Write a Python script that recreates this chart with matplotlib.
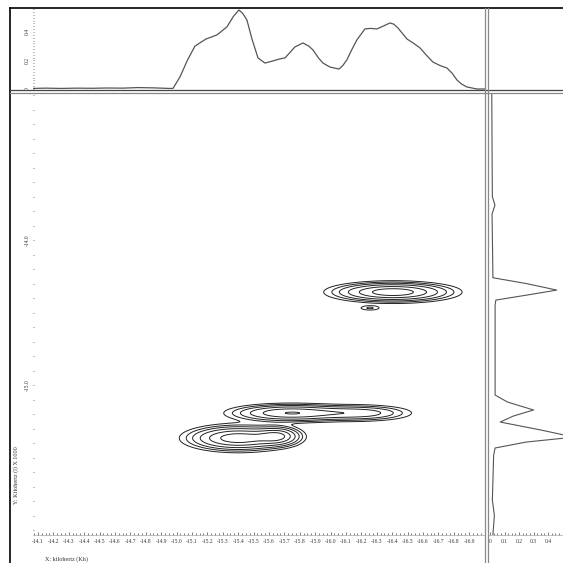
import numpy as np
import matplotlib.pyplot as plt
from matplotlib.lines import Line2D
from matplotlib.ticker import MultipleLocator, FixedLocator

# top projection (x in kHz, intensity)
top_x = [-14.068, -14.15, -14.25, -14.35, -14.45, -14.55, -14.65, -14.75, -14.85, -14.95, -14.977,
         -15.022, -15.07, -15.119, -15.19, -15.262, -15.327, -15.37, -15.405, -15.43, -15.457,
         -15.49, -15.529, -15.574, -15.62, -15.671, -15.704, -15.74, -15.769, -15.821, -15.86,
         -15.886, -15.92, -15.951, -15.996, -16.055, -16.08, -16.106, -16.14, -16.171, -16.223,
         -16.26, -16.301, -16.35, -16.386, -16.41, -16.438, -16.496, -16.54, -16.581, -16.62,
         -16.665, -16.71, -16.756, -16.79, -16.821, -16.85, -16.886, -16.951, -17.0]
top_v = [0.004, 0.006, 0.004, 0.006, 0.005, 0.007, 0.006, 0.010, 0.008, 0.004, 0.004,
         0.084, 0.20, 0.300, 0.350, 0.379, 0.435, 0.510, 0.554, 0.530, 0.484,
         0.350, 0.218, 0.182, 0.195, 0.211, 0.218, 0.260, 0.295, 0.323, 0.300,
         0.274, 0.220, 0.182, 0.154, 0.140, 0.165, 0.204, 0.280, 0.344, 0.421,
         0.425, 0.421, 0.445, 0.463, 0.455, 0.428, 0.351, 0.320, 0.288, 0.240,
         0.189, 0.165, 0.147, 0.110, 0.063, 0.035, 0.014, 0.0, 0.0]

# right projection (intensity, y in kHz)
side_y = [-12.99, -13.38, -13.70, -13.76, -13.82, -14.26, -14.30, -14.345, -14.372, -14.414,
          -14.448, -14.76, -15.069, -15.117, -15.172, -15.214, -15.255, -15.31, -15.359,
          -15.393, -15.434, -15.483, -15.793, -15.90, -16.03]
side_v = [0.012, 0.014, 0.016, 0.034, 0.014, 0.02, 0.25, 0.46, 0.30, 0.04,
          0.035, 0.035, 0.035, 0.12, 0.30, 0.16, 0.07, 0.35, 0.58,
          0.25, 0.035, 0.025, 0.016, 0.03, 0.02]

# 2D peaks: centre x, centre y, width x, width y, height
pk_x = [-16.405, -16.256, -15.40, -15.658, -15.736, -16.191]
pk_y = [-14.359, -14.469, -15.366, -15.352, -15.193, -15.193]
pk_sx = [0.20, 0.05, 0.17, 0.08, 0.20, 0.18]
pk_sy = [0.035, 0.012, 0.045, 0.035, 0.032, 0.030]
pk_h = [1.0, 0.15, 1.0, 0.7, 0.8, 0.45]
levels = [0.08, 0.14, 0.22, 0.35, 0.55, 0.8]

x_ticks = [round(-14.1 - 0.1 * i, 1) for i in range(29)]
y_ticks = [-14.0, -15.0]
side_ticks = [0, 0.1, 0.2, 0.3, 0.4, 0.5]
side_labels = ['0', '0.1', '0.2', '0.3', '0.4', '']

W = 563.0
def box(l, t, r, b):
    return [l / W, 1 - b / W, (r - l) / W, (b - t) / W]

plt.rcParams['font.family'] = ['Liberation Serif', 'DejaVu Serif']
fig = plt.figure(figsize=(5.63, 5.63), dpi=100)
fig.patch.set_facecolor('white')

tc = '#333333'
fs = 4.0

# main contour panel
ax = fig.add_axes(box(33, 93, 485, 535))
gx = np.linspace(-14.0, -17.1, 500)
gy = np.linspace(-12.9, -16.1, 500)
X, Y = np.meshgrid(gx, gy)
Z = np.zeros_like(X)
for cx, cy, sx, sy, h in zip(pk_x, pk_y, pk_sx, pk_sy, pk_h):
    Z += h * np.exp(-0.5 * (((X - cx) / sx) ** 2 + ((Y - cy) / sy) ** 2))
ax.contour(X, Y, Z, levels=levels, colors='#222222', linewidths=0.7)
ax.set_xlim(-14.068, -17.003)
ax.set_ylim(-16.034, -12.986)
for s in ['top', 'right', 'left']:
    ax.spines[s].set_visible(False)
ax.spines['bottom'].set_color('#aaaaaa')
ax.spines['bottom'].set_linewidth(0.5)
ax.xaxis.set_major_locator(FixedLocator(x_ticks))
ax.set_xticklabels(['%.1f' % v for v in x_ticks])
ax.xaxis.set_minor_locator(MultipleLocator(0.025))
ax.yaxis.set_major_locator(FixedLocator(y_ticks))
ax.set_yticklabels(['%.1f' % v for v in y_ticks], rotation=90, va='center')
ax.yaxis.set_minor_locator(MultipleLocator(0.1))
ax.tick_params(which='both', colors='#666666', labelcolor=tc, labelsize=fs, width=0.6, direction='in')
ax.tick_params(axis='x', which='major', length=2.5, pad=3)
ax.tick_params(axis='x', which='minor', length=1.2)
ax.tick_params(axis='y', which='both', length=1.0, pad=2)

# top projection
axt = fig.add_axes(box(33, 8, 485, 90))
axt.plot(top_x, top_v, color='#555555', lw=0.9)
axt.set_xlim(-14.068, -17.003)
axt.set_ylim(-0.007, 0.568)
for s in ['top', 'right', 'left', 'bottom']:
    axt.spines[s].set_visible(False)
axt.set_xticks([])
axt.yaxis.set_major_locator(FixedLocator([0, 0.2, 0.4]))
axt.set_yticklabels(['0', '0.2', '0.4'], rotation=90, va='center')
axt.yaxis.set_minor_locator(MultipleLocator(0.02))
axt.tick_params(which='both', colors='#666666', labelcolor=tc, labelsize=fs, length=1.0, width=0.6,
                pad=2, direction='in')

# right projection
axr = fig.add_axes(box(488, 93, 563, 535))
axr.plot(side_v, side_y, color='#555555', lw=0.8)
axr.set_ylim(-16.034, -12.986)
axr.set_xlim(-0.014, 0.503)
for s in ['top', 'right', 'left']:
    axr.spines[s].set_visible(False)
axr.spines['bottom'].set_color('#aaaaaa')
axr.spines['bottom'].set_linewidth(0.5)
axr.set_yticks([])
axr.xaxis.set_major_locator(FixedLocator(side_ticks))
axr.set_xticklabels(side_labels)
axr.xaxis.set_minor_locator(MultipleLocator(0.025))
axr.tick_params(which='both', colors='#666666', labelcolor=tc, labelsize=fs, width=0.6, direction='in')
axr.tick_params(axis='x', which='major', length=2.5, pad=3)
axr.tick_params(axis='x', which='minor', length=1.2)

# frame and separators
def fline(x0, y0, x1, y1, c, lw):
    fig.add_artist(Line2D([x0 / W, x1 / W], [1 - y0 / W, 1 - y1 / W], color=c, lw=lw))

fline(10, 8, 563, 8, 'black', 1.2)
fline(10, 8, 10, 563, 'black', 1.2)
fline(10, 90, 563, 90, '#444444', 0.9)
fline(10, 93, 563, 93, '#888888', 0.9)
fline(485, 8, 485, 563, '#888888', 0.9)
fline(488, 8, 488, 563, '#888888', 0.9)

fig.text(45 / W, 1 - 559 / W, 'X: kilohertz (Kh)', fontsize=4.4, color='#333333', va='center')
fig.text(16 / W, 1 - 475 / W, 'Y: Kilohertz (l) X 1000', fontsize=4.4, color='#333333',
         rotation=90, ha='center', va='center')

fig.savefig('out.png', dpi=100)
